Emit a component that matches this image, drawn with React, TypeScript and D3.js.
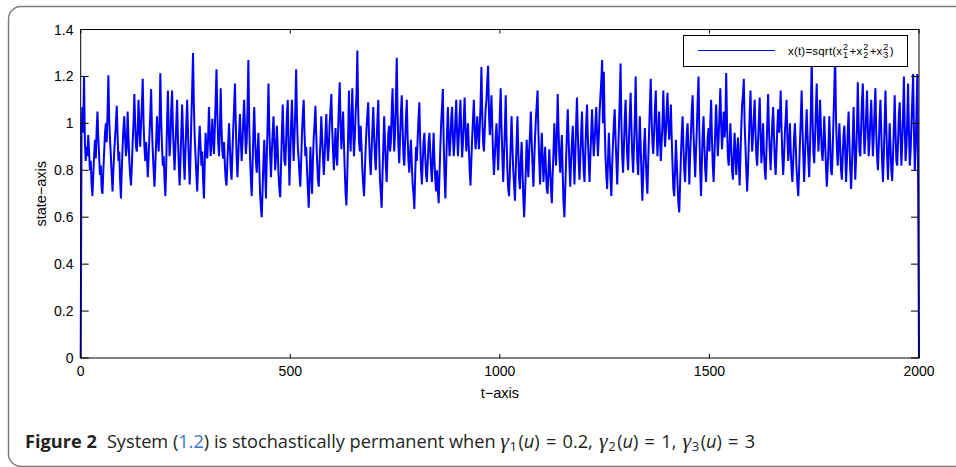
import React, { useEffect, useRef } from 'react'
import * as d3 from 'd3'

const T_END = 2000
const stateValues = [
  0, 0.98, 1.07, 0.96, 1.2, 0.92, 0.84, 0.9, 0.86, 0.95, 0.88, 0.8, 0.84, 0.74, 0.69, 0.78, 0.86, 0.93, 0.85, 0.97, 1.05, 0.94, 0.86, 0.78, 0.82,
  0.72, 0.7, 0.8, 0.88, 0.96, 1.0, 0.92, 1.04, 1.205, 1.02, 0.93, 0.86, 0.78, 0.71, 0.8, 0.88, 0.94, 1.0, 1.075, 0.95, 0.84, 0.88, 0.76, 0.68, 0.8,
  0.9, 0.98, 1.03, 0.94, 0.86, 0.9, 1.05, 0.94, 0.84, 0.78, 0.735, 0.82, 0.92, 1.0, 1.125, 1.0, 0.9, 0.88, 0.97, 1.1, 0.98, 0.9, 1.0, 1.08, 1.19,
  1.0, 0.9, 0.84, 0.92, 0.86, 0.77, 0.85, 0.95, 1.04, 1.146, 0.98, 0.88, 0.8, 0.73, 0.82, 0.92, 1.03, 0.94, 0.88, 1.0, 1.214, 1.02, 0.9, 0.82, 0.86,
  0.76, 0.69, 0.82, 1.0, 1.14, 0.98, 0.86, 0.92, 1.06, 1.14, 0.98, 0.88, 0.8, 0.9, 1.0, 1.1, 0.94, 0.82, 0.735, 0.84, 0.96, 1.08, 0.96, 0.84, 0.76,
  0.88, 1.0, 1.1, 0.96, 0.84, 0.74, 0.86, 1.02, 1.15, 1.3, 1.08, 0.94, 0.86, 0.78, 0.71, 0.82, 0.92, 0.99, 0.9, 0.82, 0.88, 0.76, 0.68, 0.84, 0.96,
  0.88, 0.85, 0.94, 1.07, 0.95, 0.86, 0.92, 1.02, 0.93, 0.87, 0.98, 1.1, 1.23, 1.04, 0.92, 0.86, 0.96, 1.15, 0.98, 0.88, 0.85, 0.92, 0.82, 0.76, 0.735,
  0.84, 0.92, 1.0, 0.9, 0.8, 0.76, 0.88, 0.98, 1.07, 1.17, 1.0, 0.86, 0.77, 0.86, 0.96, 1.04, 0.93, 0.84, 0.92, 1.02, 1.1, 0.98, 0.87, 0.92, 1.06,
  1.27, 1.0, 0.86, 0.76, 0.69, 0.82, 0.96, 1.07, 0.94, 0.84, 0.79, 0.88, 0.96, 0.82, 0.7, 0.64, 0.6, 0.72, 0.84, 0.93, 0.8, 0.68, 0.86, 1.0, 1.17,
  0.98, 0.86, 0.77, 0.88, 0.96, 1.03, 0.92, 0.8, 0.86, 0.99, 0.9, 0.78, 0.72, 0.685, 0.82, 0.96, 1.08, 0.94, 0.84, 0.82, 0.92, 1.04, 1.1, 0.9, 0.735,
  0.86, 1.0, 1.1, 0.96, 0.84, 0.94, 1.06, 1.23, 1.02, 0.9, 0.85, 0.78, 0.73, 0.84, 0.96, 1.04, 1.1, 0.96, 0.86, 0.9, 0.8, 0.72, 0.64, 0.76, 0.9,
  0.8, 0.7, 0.84, 0.94, 1.0, 1.075, 0.95, 0.84, 0.76, 0.73, 0.84, 0.92, 1.03, 0.94, 0.86, 0.78, 0.86, 0.96, 1.04, 0.92, 0.84, 0.9, 1.0, 1.06, 1.125,
  0.98, 0.88, 0.8, 0.9, 0.98, 0.86, 0.82, 0.96, 1.08, 1.175, 1.0, 0.89, 0.97, 1.05, 0.92, 0.8, 0.7, 0.65, 0.78, 0.94, 1.14, 0.96, 0.88, 1.02, 1.15,
  0.98, 0.86, 0.94, 1.05, 1.12, 1.31, 1.06, 0.92, 0.88, 0.99, 0.9, 0.8, 0.74, 0.69, 0.8, 0.9, 0.98, 1.04, 1.09, 0.94, 0.84, 0.78, 0.88, 0.98, 1.07,
  0.95, 0.86, 0.8, 0.92, 1.02, 1.1, 0.9, 0.76, 0.7, 0.64, 0.78, 0.9, 1.03, 0.92, 0.82, 0.75, 0.86, 0.96, 0.99, 0.88, 0.92, 1.05, 1.15, 1.0, 0.88,
  0.96, 1.1, 1.28, 1.04, 0.9, 0.83, 0.94, 1.05, 1.12, 0.98, 0.86, 0.82, 0.92, 1.02, 1.1, 0.94, 0.84, 0.79, 0.88, 0.93, 0.82, 0.74, 0.7, 0.635, 0.78,
  0.9, 0.84, 0.94, 1.02, 1.09, 0.92, 0.8, 0.74, 0.84, 0.92, 0.96, 0.86, 0.78, 0.75, 0.84, 0.92, 0.96, 0.88, 0.8, 0.75, 0.86, 0.96, 0.84, 0.76, 0.71,
  0.8, 0.72, 0.66, 0.78, 0.9, 1.0, 1.07, 1.146, 0.92, 0.78, 0.68, 0.82, 0.96, 1.07, 0.95, 0.86, 0.92, 1.02, 1.07, 0.95, 0.86, 0.92, 1.02, 1.1, 0.96,
  0.86, 0.94, 1.03, 1.1, 0.96, 0.855, 0.92, 1.02, 1.11, 0.98, 0.88, 0.94, 1.0, 0.9, 0.8, 0.735, 0.84, 0.94, 1.02, 1.1, 0.98, 0.89, 0.95, 1.03, 0.96,
  0.89, 0.98, 1.08, 1.24, 1.04, 0.92, 0.88, 0.97, 1.06, 1.1, 1.18, 1.245, 1.05, 0.95, 1.02, 1.12, 0.98, 0.86, 0.78, 0.86, 0.94, 1.0, 0.9, 0.8, 0.92,
  1.04, 1.15, 0.98, 0.86, 0.75, 0.86, 0.98, 1.12, 0.94, 0.8, 0.72, 0.69, 0.8, 0.92, 1.03, 0.9, 0.8, 0.74, 0.67, 0.8, 0.92, 1.03, 0.88, 0.76, 0.72,
  0.84, 0.92, 0.8, 0.68, 0.6, 0.7, 0.8, 0.93, 0.85, 0.77, 0.88, 0.96, 1.05, 0.92, 0.82, 0.73, 0.84, 0.94, 1.02, 1.08, 1.14, 0.96, 0.84, 0.74, 0.86,
  0.96, 0.86, 0.75, 0.82, 0.9, 0.8, 0.72, 0.7, 0.8, 0.89, 0.8, 0.72, 0.66, 0.78, 0.88, 1.0, 0.9, 0.82, 0.95, 1.125, 0.98, 0.86, 0.79, 0.88, 0.95,
  0.78, 0.66, 0.6, 0.72, 0.84, 0.96, 1.06, 0.94, 0.82, 0.73, 0.84, 0.92, 0.99, 0.86, 0.74, 0.86, 1.0, 1.11, 0.96, 0.84, 0.76, 0.86, 0.96, 1.05, 0.9,
  0.8, 0.75, 0.88, 1.0, 1.08, 0.94, 0.84, 0.75, 0.86, 0.96, 1.06, 0.95, 0.86, 0.92, 1.0, 1.07, 0.95, 0.86, 0.94, 1.05, 1.12, 1.18, 1.27, 1.0, 1.22,
  1.0, 0.86, 0.78, 0.72, 0.84, 0.96, 0.86, 0.76, 0.69, 0.82, 0.92, 1.0, 1.06, 0.94, 0.84, 0.74, 0.86, 0.98, 1.1, 1.255, 1.0, 0.86, 0.79, 0.9, 1.02,
  1.1, 0.96, 0.86, 0.8, 0.92, 1.04, 1.13, 0.98, 0.86, 0.79, 0.9, 1.02, 1.2, 0.98, 0.84, 0.78, 0.9, 1.03, 0.9, 0.78, 0.67, 0.78, 0.9, 0.98, 0.86,
  0.76, 0.7, 0.84, 0.96, 1.08, 1.19, 1.02, 0.92, 0.87, 0.96, 1.06, 1.14, 0.98, 0.86, 0.94, 1.05, 0.94, 0.84, 0.92, 1.0, 1.14, 1.0, 0.9, 0.96, 1.06,
  1.13, 1.0, 0.93, 0.98, 1.08, 0.94, 0.82, 0.72, 0.69, 0.8, 0.93, 0.84, 0.74, 0.66, 0.62, 0.74, 0.86, 0.96, 1.03, 0.9, 0.8, 0.75, 0.86, 0.96, 1.0,
  0.88, 0.74, 0.86, 0.96, 1.06, 1.12, 0.96, 0.86, 0.77, 0.88, 0.98, 1.1, 1.2, 0.96, 0.8, 0.69, 0.84, 0.96, 1.03, 0.9, 0.8, 0.75, 0.86, 0.94, 0.98,
  0.88, 1.0, 1.1, 0.94, 0.82, 0.75, 0.86, 0.98, 1.08, 0.97, 0.86, 0.94, 1.04, 1.15, 1.0, 0.89, 0.96, 1.05, 0.94, 0.98, 1.215, 1.0, 0.86, 0.82, 0.9,
  1.0, 0.9, 0.8, 0.76, 0.86, 0.96, 0.88, 0.78, 0.86, 0.94, 0.84, 0.735, 0.86, 0.98, 1.08, 1.12, 1.19, 1.0, 0.9, 0.8, 0.71, 0.8, 0.92, 1.04, 1.14,
  0.98, 0.88, 0.95, 1.03, 1.1, 0.96, 0.86, 0.82, 0.92, 1.02, 1.11, 0.96, 0.83, 0.9, 1.0, 0.88, 0.8, 0.76, 0.88, 1.0, 1.125, 0.98, 0.88, 0.8, 0.9,
  1.0, 1.07, 0.95, 0.84, 0.78, 0.88, 0.98, 1.06, 0.96, 1.02, 1.14, 0.98, 0.86, 0.78, 0.86, 0.96, 1.02, 1.1, 0.94, 0.84, 0.9, 1.0, 0.88, 0.8, 0.75,
  0.84, 0.94, 1.0, 0.9, 0.8, 0.74, 0.69, 0.8, 0.92, 1.02, 1.14, 0.98, 0.86, 0.75, 0.86, 0.96, 1.06, 0.95, 0.85, 0.77, 0.9, 1.05, 1.28, 1.02, 0.88,
  0.83, 0.94, 1.06, 1.17, 1.0, 0.88, 0.96, 1.1, 0.98, 0.88, 0.84, 0.92, 1.03, 0.92, 0.82, 0.73, 0.8, 0.9, 1.03, 0.92, 0.8, 0.78, 0.88, 1.02, 1.15,
  1.3, 1.02, 0.9, 0.82, 0.9, 1.0, 0.9, 0.8, 0.76, 0.86, 0.95, 0.99, 0.88, 0.75, 0.84, 0.96, 1.05, 0.92, 0.8, 0.72, 0.82, 0.94, 1.07, 0.9, 0.76,
  0.86, 0.98, 1.175, 1.0, 0.88, 0.86, 0.98, 1.1, 1.17, 0.98, 0.87, 0.94, 1.04, 1.14, 0.98, 0.86, 0.92, 1.02, 1.1, 0.98, 0.86, 0.94, 1.06, 1.15, 0.96,
  0.86, 0.8, 0.9, 1.02, 1.1, 0.96, 0.84, 0.75, 0.86, 1.0, 1.14, 0.98, 0.86, 0.76, 0.88, 1.0, 0.9, 0.8, 0.755, 0.86, 0.98, 1.12, 0.96, 0.84, 0.82,
  0.92, 1.04, 1.09, 0.94, 0.82, 0.92, 1.04, 1.2, 0.98, 0.84, 0.9, 1.02, 1.17, 0.96, 0.82, 0.88, 1.0, 1.1, 1.21, 0.96, 0.8, 0.9, 1.04, 1.21, 0.73,
  0
]

const xTicks = [0, 500, 1000, 1500, 2000]
const yTicks = [0, 0.2, 0.4, 0.6, 0.8, 1, 1.2, 1.4]
const yTickLabels = ['0', '0.2', '0.4', '0.6', '0.8', '1', '1.2', '1.4']
const gammaParams = [['1', '0.2'], ['2', '1'], ['3', '3']]

const AXIS_FONT = '"Liberation Sans", Arial, sans-serif'
const CAPTION_FONT = '"Open Sans", "Noto Sans", sans-serif'

export default function App() {
  const svgRef = useRef<SVGSVGElement>(null)

  useEffect(() => {
    const svg = d3.select(svgRef.current)
    svg.selectAll('*').remove()

    const left = 80.7
    const right = 919
    const top = 29.5
    const bottom = 358
    const tStep = T_END / (stateValues.length - 1)

    const xScale = d3.scaleLinear().domain([0, T_END]).range([left, right])
    const yScale = d3.scaleLinear().domain([0, 1.4]).range([bottom, top])

    // outer figure box, rounded on the left
    svg
      .append('path')
      .attr('d', 'M956,6.5 H21 A12.5,12.5 0 0 0 8.5,19 V454 A12.5,12.5 0 0 0 21,466.5 H956')
      .attr('fill', 'none')
      .attr('stroke', '#7a7a7a')
      .attr('stroke-width', 1.4)

    // data line
    const line = d3
      .line<number>()
      .x((d, i) => xScale(i * tStep))
      .y(d => yScale(d))

    svg
      .append('path')
      .datum(stateValues)
      .attr('d', line)
      .attr('fill', 'none')
      .attr('stroke', '#0000ff')
      .attr('stroke-width', 2)
      .attr('stroke-linejoin', 'miter')

    // axes box
    svg
      .append('rect')
      .attr('x', left)
      .attr('y', top)
      .attr('width', right - left)
      .attr('height', bottom - top)
      .attr('fill', 'none')
      .attr('stroke', '#000')
      .attr('stroke-width', 1)

    // x ticks, bottom and top
    xTicks.forEach(v => {
      const x = xScale(v)
      svg.append('line').attr('x1', x).attr('x2', x).attr('y1', bottom).attr('y2', bottom - 4).attr('stroke', '#000')
      svg.append('line').attr('x1', x).attr('x2', x).attr('y1', top).attr('y2', top + 4).attr('stroke', '#000')
      svg
        .append('text')
        .attr('x', x)
        .attr('y', 375.5)
        .attr('text-anchor', 'middle')
        .attr('font-family', AXIS_FONT)
        .attr('font-size', 14)
        .text(String(v))
    })

    // y ticks, left and right
    yTicks.forEach((v, i) => {
      const y = yScale(v)
      svg.append('line').attr('x1', left).attr('x2', left + 8).attr('y1', y).attr('y2', y).attr('stroke', '#000')
      svg.append('line').attr('x1', right).attr('x2', right - 8).attr('y1', y).attr('y2', y).attr('stroke', '#000')
      svg
        .append('text')
        .attr('x', 73.5)
        .attr('y', y + 5)
        .attr('text-anchor', 'end')
        .attr('font-family', AXIS_FONT)
        .attr('font-size', 14)
        .text(yTickLabels[i])
    })

    // axis titles
    svg
      .append('text')
      .attr('x', (left + right) / 2)
      .attr('y', 398)
      .attr('text-anchor', 'middle')
      .attr('font-family', AXIS_FONT)
      .attr('font-size', 14.5)
      .text('t\u2212axis')

    svg
      .append('text')
      .attr('transform', `translate(46,${(top + bottom) / 2}) rotate(-90)`)
      .attr('text-anchor', 'middle')
      .attr('font-family', AXIS_FONT)
      .attr('font-size', 14.5)
      .text('state\u2212axis')

    // legend
    svg
      .append('rect')
      .attr('x', 683.5)
      .attr('y', 35.5)
      .attr('width', 224)
      .attr('height', 31)
      .attr('fill', '#fff')
      .attr('stroke', '#000')
    svg
      .append('line')
      .attr('x1', 698)
      .attr('x2', 775)
      .attr('y1', 50.5)
      .attr('y2', 50.5)
      .attr('stroke', '#0000ff')
      .attr('stroke-width', 1.2)

    const lt = svg
      .append('text')
      .attr('x', 788)
      .attr('y', 54.5)
      .attr('font-family', AXIS_FONT)
      .attr('font-size', 11.5)
      .attr('letter-spacing', 0.2)
    lt.append('tspan').text('x(t)=sqrt(x')
    ;[1, 2, 3].forEach(k => {
      lt.append('tspan').attr('font-size', 9).attr('dx', 0.8).attr('dy', -5).text('2')
      lt.append('tspan').attr('font-size', 9).attr('dx', -5.2).attr('dy', 8.5).text(String(k))
      lt.append('tspan').attr('dx', 1.2).attr('dy', -3.5).text(k < 3 ? '+x' : ')')
    })

    // caption
    const cap = svg
      .append('text')
      .attr('x', 25)
      .attr('y', 447.5)
      .attr('font-family', CAPTION_FONT)
      .attr('font-size', 18.2)
      .attr('fill', '#231f20')
    cap.append('tspan').attr('font-weight', 'bold').text('Figure 2')
    cap.append('tspan').attr('dx', 10).text('System (')
    cap.append('tspan').attr('fill', '#3a72c4').text('1.2')
    cap.append('tspan').text(') is stochastically permanent when ')
    gammaParams.forEach(([k, val], i) => {
      cap
        .append('tspan')
        .attr('font-family', '"Liberation Serif", serif')
        .attr('font-style', 'italic')
        .attr('font-size', 22)
        .text('\u03b3')
      cap.append('tspan').attr('font-size', 13).attr('dx', 0.5).attr('dy', 3).text(k)
      cap.append('tspan').attr('dx', 1.5).attr('dy', -3).text('(')
      cap.append('tspan').attr('font-style', 'italic').text('u')
      cap.append('tspan').attr('word-spacing', 1.5).text(`) = ${val}${i < 2 ? ', ' : ''}`)
    })
  }, [])

  return (
    <svg
      ref={svgRef}
      width={956}
      height={467}
      style={{ position: 'absolute', left: 0, top: 0, background: '#fff' }}
    />
  )
}
